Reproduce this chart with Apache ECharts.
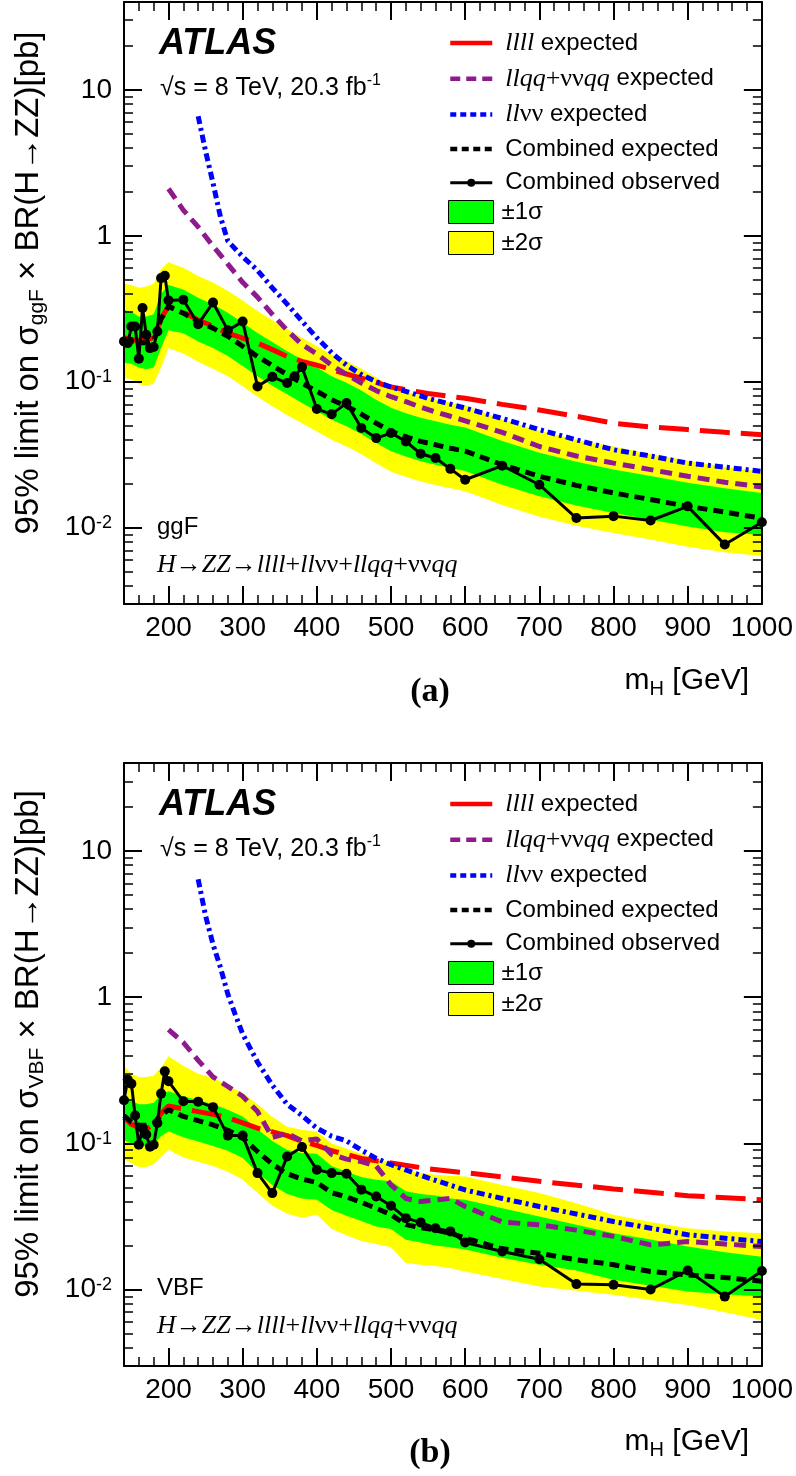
<!DOCTYPE html>
<html>
<head>
<meta charset="utf-8">
<title>H→ZZ limits</title>
<script src="https://cdn.jsdelivr.net/npm/echarts@6.0.0/dist/echarts.min.js"></script>
<style>
html,body{margin:0;padding:0;background:#ffffff;}
#chart{width:796px;height:1476px;}
</style>
</head>
<body>
<div id="chart"></div>
<script>
// ================= TICKS =================
const xMajorTicks = [200, 300, 400, 500, 600, 700, 800, 900, 1000];
const xMinorTicks = [160, 180, 220, 240, 260, 280, 320, 340, 360, 380, 420, 440, 460, 480, 520, 540, 560, 580, 620, 640, 660, 680, 720, 740, 760, 780, 820, 840, 860, 880, 920, 940, 960, 980];
const yMajorTicks = [0.01, 0.1, 1, 10];
const yMinorTicks = [0.004, 0.005, 0.006, 0.007, 0.008, 0.009, 0.02, 0.03, 0.04, 0.05, 0.06, 0.07, 0.08, 0.09, 0.2, 0.3, 0.4, 0.5, 0.6, 0.7, 0.8, 0.9, 2, 3, 4, 5, 6, 7, 8, 9, 20, 30];

// ================= PANEL (a): ggF =================
const massObsA = [140,145,150,155,160,165,170,175,180,185,190,195,200,220,240,260,280,300,320,340,360,370,380,400,420,440,460,480,500,520,540,560,580,600,650,700,750,800,850,900,950,1000];
const obsA = [0.189,0.184,0.239,0.239,0.144,0.320,0.210,0.170,0.173,0.221,0.513,0.532,0.361,0.365,0.248,0.349,0.225,0.259,0.0929,0.108,0.098,0.109,0.126,0.065,0.060,0.0714,0.0482,0.0411,0.0445,0.039,0.0321,0.030,0.0253,0.0213,0.0266,0.0197,0.01165,0.0120,0.0112,0.0140,0.00766,0.0109];

const massExpA = [140,150,160,170,180,190,200,220,240,260,280,300,320,340,360,380,400,420,440,460,480,500,520,540,560,580,600,650,700,750,800,850,900,950,1000];
const expA  = [0.19,0.19,0.185,0.185,0.19,0.27,0.328,0.295,0.259,0.233,0.205,0.175,0.149,0.129,0.112,0.098,0.086,0.0753,0.068,0.060,0.052,0.0457,0.042,0.039,0.037,0.035,0.0335,0.027,0.0225,0.0195,0.0173,0.0156,0.0140,0.0128,0.0116];
const lo2A  = [0.106,0.104,0.096,0.094,0.097,0.125,0.17,0.156,0.137,0.123,0.109,0.093,0.079,0.068,0.059,0.052,0.0456,0.040,0.036,0.0318,0.0276,0.0242,0.0223,0.0207,0.0196,0.0186,0.0178,0.0143,0.0119,0.0103,0.0092,0.0083,0.0074,0.0068,0.0064];
const lo1A  = [0.135,0.133,0.125,0.122,0.125,0.17,0.225,0.215,0.189,0.170,0.150,0.128,0.109,0.094,0.082,0.0715,0.0628,0.055,0.0496,0.0438,0.038,0.0334,0.0307,0.0285,0.027,0.0256,0.0245,0.0197,0.0164,0.0142,0.0126,0.0114,0.0102,0.0093,0.0089];
const hi1A  = [0.31,0.30,0.28,0.28,0.29,0.40,0.46,0.428,0.376,0.338,0.297,0.254,0.216,0.187,0.162,0.142,0.125,0.109,0.0986,0.087,0.0754,0.0663,0.0609,0.0566,0.0537,0.0508,0.0486,0.0392,0.0326,0.0283,0.025,0.0226,0.0203,0.0186,0.0173];
const hi2A  = [0.47,0.46,0.44,0.45,0.47,0.59,0.66,0.605,0.53,0.478,0.42,0.36,0.305,0.264,0.23,0.20,0.176,0.154,0.139,0.123,0.107,0.0937,0.0861,0.080,0.0759,0.0718,0.0687,0.0554,0.0461,0.040,0.036,0.032,0.0287,0.0262,0.0243];

const massRedA = [140,160,180,190,200,220,240,260,280,300,320,340,360,380,400,420,440,460,480,500,550,600,650,700,750,800,850,900,950,1000];
const redA = [0.20,0.19,0.20,0.27,0.33,0.30,0.265,0.24,0.215,0.199,0.184,0.166,0.149,0.138,0.13,0.121,0.113,0.106,0.099,0.092,0.083,0.077,0.07,0.064,0.058,0.052,0.049,0.047,0.045,0.0434];

const massPurA = [200,220,240,260,280,300,320,340,360,380,400,420,440,460,480,500,520,540,560,580,600,650,700,750,800,850,900,950,1000];
const purA = [2.1,1.5,1.15,0.85,0.64,0.48,0.38,0.29,0.225,0.18,0.155,0.13,0.112,0.098,0.087,0.079,0.073,0.067,0.062,0.058,0.054,0.045,0.036,0.031,0.0277,0.025,0.0225,0.0205,0.019];

const massBluA = [240,250,260,270,280,300,320,340,360,380,400,420,440,460,480,500,520,550,600,650,700,750,800,850,900,950,1000];
const bluA = [6.6,3.8,2.3,1.35,0.92,0.72,0.58,0.44,0.34,0.26,0.20,0.158,0.13,0.112,0.10,0.092,0.086,0.077,0.066,0.056,0.047,0.040,0.0342,0.031,0.0277,0.026,0.0243];

// ================= PANEL (b): VBF =================
const massObsB = [140,145,150,155,160,165,170,175,180,185,190,195,200,220,240,260,280,300,320,340,360,380,400,420,440,460,480,500,520,540,560,580,600,650,700,750,800,850,900,950,1000];
const obsB = [0.197,0.273,0.256,0.155,0.098,0.127,0.115,0.095,0.098,0.138,0.219,0.311,0.266,0.194,0.193,0.177,0.113,0.113,0.0626,0.0457,0.0814,0.0945,0.066,0.0626,0.062,0.0482,0.0433,0.0374,0.0308,0.0288,0.0263,0.025,0.021,0.0182,0.0161,0.0109,0.0108,0.0100,0.0135,0.00895,0.0134];

const massExpB = [140,150,160,170,180,190,200,220,240,260,280,300,320,340,360,380,400,420,440,460,480,500,520,540,560,580,600,650,700,750,800,850,900,950,1000];
const expB = [0.155,0.14,0.133,0.133,0.138,0.155,0.17,0.153,0.143,0.134,0.123,0.109,0.088,0.072,0.062,0.057,0.054,0.046,0.043,0.0395,0.036,0.0325,0.0278,0.0265,0.0256,0.0243,0.0225,0.019,0.0177,0.016,0.0148,0.0133,0.0126,0.0121,0.0114];
const lo2B = [0.078,0.073,0.069,0.069,0.072,0.081,0.0906,0.080,0.075,0.070,0.064,0.0565,0.046,0.0375,0.033,0.031,0.0325,0.026,0.0235,0.0215,0.0205,0.0195,0.0152,0.0148,0.0145,0.014,0.0133,0.0118,0.0105,0.0098,0.0092,0.0085,0.00785,0.0070,0.0062];
const lo1B = [0.105,0.10,0.096,0.096,0.099,0.112,0.121,0.11,0.103,0.096,0.089,0.0794,0.063,0.052,0.045,0.042,0.0412,0.035,0.032,0.0295,0.027,0.026,0.0219,0.021,0.020,0.0195,0.0188,0.0165,0.0148,0.0135,0.01165,0.0106,0.0097,0.0093,0.00895];
const hi1B = [0.22,0.195,0.185,0.185,0.19,0.215,0.227,0.21,0.197,0.185,0.17,0.153,0.125,0.104,0.09,0.086,0.085,0.07,0.064,0.059,0.0565,0.055,0.047,0.045,0.044,0.042,0.0412,0.036,0.0316,0.0278,0.0243,0.022,0.0197,0.018,0.0168];
const hi2B = [0.34,0.30,0.285,0.285,0.29,0.33,0.394,0.34,0.30,0.28,0.25,0.221,0.185,0.152,0.13,0.124,0.12,0.10,0.092,0.085,0.078,0.075,0.066,0.063,0.061,0.060,0.0594,0.052,0.0457,0.039,0.0325,0.029,0.0263,0.025,0.0243];

const massRedB = [140,150,160,170,180,190,200,220,240,260,280,300,320,340,360,380,400,420,440,460,480,500,550,600,650,700,800,900,1000];
const redB = [0.15,0.135,0.128,0.125,0.135,0.16,0.18,0.172,0.165,0.158,0.15,0.138,0.127,0.12,0.113,0.103,0.097,0.089,0.084,0.079,0.076,0.0735,0.067,0.063,0.059,0.055,0.0488,0.0439,0.0412];

const massPurB = [200,220,240,260,280,300,320,340,360,380,400,420,440,460,480,500,520,540,560,580,600,650,700,750,800,850,900,950,1000];
const purB = [0.60,0.49,0.37,0.285,0.245,0.21,0.165,0.11,0.117,0.104,0.107,0.084,0.078,0.075,0.07,0.052,0.042,0.040,0.041,0.042,0.037,0.029,0.0277,0.0255,0.0231,0.0202,0.0213,0.0205,0.0197];

const massBluB = [240,250,260,270,280,290,300,320,340,360,380,400,420,440,460,480,500,550,600,650,700,800,900,1000];
const bluB = [6.4,3.6,2.3,1.6,1.05,0.76,0.56,0.36,0.25,0.185,0.155,0.127,0.112,0.104,0.09,0.079,0.0715,0.058,0.048,0.042,0.037,0.0292,0.0237,0.0213];

// ================= STYLE =================
const SANS = "'Liberation Sans', Arial, Helvetica, sans-serif";
const SERIF = "'Liberation Serif', 'Times New Roman', serif";
const YELLOW = '#ffff00', GREEN = '#00ff00';
const RED = '#ff0000', PURPLE = '#8e1a8e', BLUE = '#0000ff', BLACK = '#000000';

const NAME_RED = 'llll expected';
const NAME_PUR = 'llqq+ννqq expected';
const NAME_BLU = 'llνν expected';
const NAME_EXP = 'Combined expected';
const NAME_OBS = 'Combined observed';
const NAME_1S = '±1σ';
const NAME_2S = '±2σ';

const panels = [
  { top: 2, height: 602, prod: 'ggF',
    mObs: massObsA, obs: obsA, mExp: massExpA, exp: expA, lo2: lo2A, lo1: lo1A, hi1: hi1A, hi2: hi2A,
    mRed: massRedA, red: redA, mPur: massPurA, pur: purA, mBlu: massBluA, blu: bluA },
  { top: 763, height: 603, prod: 'VBF',
    mObs: massObsB, obs: obsB, mExp: massExpB, exp: expB, lo2: lo2B, lo1: lo1B, hi1: hi1B, hi2: hi2B,
    mRed: massRedB, red: redB, mPur: massPurB, pur: purB, mBlu: massBluB, blu: bluB }
];

function pairs(ms, vs) { return ms.map(function (m, k) { return [m, vs[k]]; }); }

const grids = [], xAxes = [], yAxes = [], series = [], legends = [], graphics = [];

function xAxisDef(gi, pos, major) {
  return {
    type: 'value', gridIndex: gi, position: pos, min: 140, max: 1000, z: 10,
    splitLine: { show: false },
    axisLine: { show: major, onZero: false, lineStyle: { color: BLACK, width: 2 } },
    axisTick: { show: true, inside: true, length: major ? 18 : 9,
      lineStyle: { color: BLACK, width: major ? 2 : 1.5 },
      customValues: major ? xMajorTicks : xMinorTicks },
    axisLabel: (major && pos === 'bottom') ? {
      show: true, customValues: xMajorTicks, color: BLACK, fontFamily: SANS, fontSize: 28, margin: 10,
      formatter: function (v) { return String(Math.round(v)); }
    } : { show: false }
  };
}
function yAxisDef(gi, pos, major) {
  return {
    type: 'log', logBase: 10, gridIndex: gi, position: pos, min: 0.003, max: 40, z: 10,
    splitLine: { show: false },
    axisLine: { show: major, onZero: false, lineStyle: { color: BLACK, width: 2 } },
    axisTick: { show: true, inside: true, length: major ? 18 : 9,
      lineStyle: { color: BLACK, width: major ? 2 : 1.5 },
      customValues: major ? yMajorTicks : yMinorTicks },
    axisLabel: (major && pos === 'left') ? {
      show: true, customValues: yMajorTicks, color: BLACK, fontFamily: SANS, fontSize: 28, margin: 12,
      formatter: function (v) {
        const e = Math.round(Math.log10(v));
        return e >= 0 ? String(Math.round(v)) : '{b|10}{s|' + e + '}';
      },
      rich: {
        b: { fontFamily: SANS, fontSize: 28, lineHeight: 30, color: BLACK, verticalAlign: 'middle' },
        s: { fontFamily: SANS, fontSize: 18, lineHeight: 18, color: BLACK, padding: [0, 0, 9, 0], verticalAlign: 'middle' }
      }
    } : { show: false }
  };
}

const legendText = {
  fontFamily: SANS, fontSize: 24, color: BLACK, lineHeight: 24,
  rich: {
    i: { fontFamily: SERIF, fontStyle: 'italic', fontSize: 26, lineHeight: 24, color: BLACK },
    r: { fontFamily: SERIF, fontSize: 26, lineHeight: 24, color: BLACK },
    n: { fontFamily: SANS, fontSize: 24, lineHeight: 24, color: BLACK },
    sp: { width: 8, lineHeight: 24 },
    sp2: { width: 3, lineHeight: 24 }
  }
};
function legendFormatter(name) {
  if (name === NAME_RED) return '{sp| }{i|llll}{n| expected}';
  if (name === NAME_PUR) return '{sp| }{i|llqq}{r|+νν}{i|qq}{n| expected}';
  if (name === NAME_BLU) return '{sp| }{i|ll}{r|νν}{n| expected}';
  if (name === NAME_1S || name === NAME_2S) return '{sp2| }{n|' + name + '}';
  return '{sp| }{n|' + name + '}';
}

panels.forEach(function (p, i) {
  const oy = p.top - 2;
  grids.push({ left: 124, top: p.top, width: 639, height: p.height, containLabel: false });
  xAxes.push(xAxisDef(i, 'bottom', true), xAxisDef(i, 'bottom', false), xAxisDef(i, 'top', true), xAxisDef(i, 'top', false));
  yAxes.push(yAxisDef(i, 'left', true), yAxisDef(i, 'left', false), yAxisDef(i, 'right', true), yAxisDef(i, 'right', false));
  const ax = { xAxisIndex: i * 4, yAxisIndex: i * 4, type: 'line', symbol: 'none', animation: false };
  function area(name, vals, color) {
    return Object.assign({}, ax, { name: name, data: pairs(p.mExp, vals), silent: true,
      lineStyle: { width: 0, opacity: 0 }, itemStyle: { color: color },
      areaStyle: { color: color, opacity: 1, origin: 'start' } });
  }
  series.push(
    area(NAME_2S, p.hi2, YELLOW),
    area(NAME_1S, p.hi1, GREEN),
    area('lower1σ-' + i, p.lo1, YELLOW),
    area('lower2σ-' + i, p.lo2, '#ffffff'),
    Object.assign({}, ax, { name: NAME_RED, data: pairs(p.mRed, p.red),
      lineStyle: { color: RED, width: 5, type: [30, 11] }, itemStyle: { color: RED } }),
    Object.assign({}, ax, { name: NAME_PUR, data: pairs(p.mPur, p.pur),
      lineStyle: { color: PURPLE, width: 5, type: [12, 7] }, itemStyle: { color: PURPLE } }),
    Object.assign({}, ax, { name: NAME_BLU, data: pairs(p.mBlu, p.blu),
      lineStyle: { color: BLUE, width: 5, type: [8, 4, 3, 4] }, itemStyle: { color: BLUE } }),
    Object.assign({}, ax, { name: NAME_EXP, data: pairs(p.mExp, p.exp),
      lineStyle: { color: BLACK, width: 5, type: [10, 6] }, itemStyle: { color: BLACK } }),
    Object.assign({}, ax, { name: NAME_OBS, data: pairs(p.mObs, p.obs), symbol: 'circle', symbolSize: 10,
      showSymbol: true, showAllSymbol: true,
      lineStyle: { color: BLACK, width: 3 }, itemStyle: { color: BLACK } })
  );
  const noSym = { color: 'rgba(0,0,0,0)', borderColor: 'rgba(0,0,0,0)', borderWidth: 0 };
  legends.push({
    show: true, orient: 'vertical', left: 448, top: 30 + oy, padding: 0,
    itemWidth: 42, itemHeight: 10, itemGap: 9.7, selectedMode: false,
    data: [
      { name: NAME_RED, itemStyle: noSym, lineStyle: { type: 'solid', width: 4.5, color: RED } },
      { name: NAME_PUR, itemStyle: noSym, lineStyle: { type: [10, 6], width: 4.5, color: PURPLE } },
      { name: NAME_BLU, itemStyle: noSym, lineStyle: { type: [6, 4], width: 4.5, color: BLUE } },
      { name: NAME_EXP, itemStyle: noSym, lineStyle: { type: [7, 4.5], width: 4.5, color: BLACK } },
      { name: NAME_OBS, lineStyle: { type: 'solid', width: 3, color: BLACK } }
    ],
    textStyle: legendText, formatter: legendFormatter
  });
  legends.push({
    show: true, orient: 'vertical', left: 448, top: 200 + oy, padding: 0,
    itemWidth: 45, itemHeight: 23, itemGap: 7, selectedMode: false,
    data: [
      { name: NAME_1S, icon: 'rect', itemStyle: { color: GREEN, borderColor: BLACK, borderWidth: 1 } },
      { name: NAME_2S, icon: 'rect', itemStyle: { color: YELLOW, borderColor: BLACK, borderWidth: 1 } }
    ],
    textStyle: legendText, formatter: legendFormatter
  });

  graphics.push(
    { type: 'text', x: 159, y: 44 + oy, z: 100, style: { text: 'ATLAS', fill: BLACK,
      fontFamily: SANS, fontStyle: 'italic', fontWeight: 'bold', fontSize: 36, verticalAlign: 'middle' } },
    { type: 'text', x: 160, y: 88 + oy, z: 100, style: { text: '√s = 8 TeV, 20.3 fb{s|-1}', fill: BLACK,
      fontFamily: SANS, fontSize: 25, lineHeight: 28, verticalAlign: 'middle',
      rich: { s: { fontFamily: SANS, fontSize: 16, lineHeight: 16, padding: [0, 0, 15, 0], verticalAlign: 'middle' } } } },
    { type: 'text', x: 157, y: 527 + oy, z: 100, style: { text: p.prod, fill: BLACK,
      fontFamily: SANS, fontSize: 24, verticalAlign: 'middle' } },
    { type: 'text', x: 157, y: 565 + oy, z: 100, style: {
      text: '{i|H}{r|→}{i|ZZ}{r|→}{i|llll}{r|+}{i|ll}{r|νν+}{i|llqq}{r|+νν}{i|qq}', verticalAlign: 'middle',
      rich: { i: { fontFamily: SERIF, fontStyle: 'italic', fontSize: 26, lineHeight: 28, fill: BLACK },
              r: { fontFamily: SERIF, fontSize: 26, lineHeight: 28, fill: BLACK } } } },
    { type: 'text', x: 29, y: 283 + oy, rotation: Math.PI / 2, z: 100, style: {
      text: '95% limit on σ{s|' + p.prod + '} × BR(H→ZZ)[pb]', fill: BLACK,
      fontFamily: SANS, fontSize: 33, lineHeight: 36, align: 'center', verticalAlign: 'middle',
      rich: { s: { fontFamily: SANS, fontSize: 21, lineHeight: 21, padding: [17, 0, 0, 0], verticalAlign: 'middle' } } } },
    { type: 'text', x: 749, y: 681 + oy, z: 100, style: {
      text: 'm{s|H} [GeV]', fill: BLACK, fontFamily: SANS, fontSize: 30, lineHeight: 32,
      align: 'right', verticalAlign: 'middle',
      rich: { s: { fontFamily: SANS, fontSize: 20, lineHeight: 20, padding: [16, 0, 0, 0], verticalAlign: 'middle' } } } },
    { type: 'text', x: 430, y: 692 + oy, z: 100, style: {
      text: i === 0 ? '(a)' : '(b)', fill: BLACK, fontFamily: SERIF, fontWeight: 'bold', fontSize: 34,
      align: 'center', verticalAlign: 'middle' } }
  );
});

const chart = echarts.init(document.getElementById('chart'), null, { renderer: 'canvas', width: 796, height: 1476 });
chart.setOption({
  animation: false,
  backgroundColor: '#ffffff',
  grid: grids,
  xAxis: xAxes,
  yAxis: yAxes,
  legend: legends,
  series: series,
  graphic: { elements: graphics }
});
</script>
</body>
</html>
